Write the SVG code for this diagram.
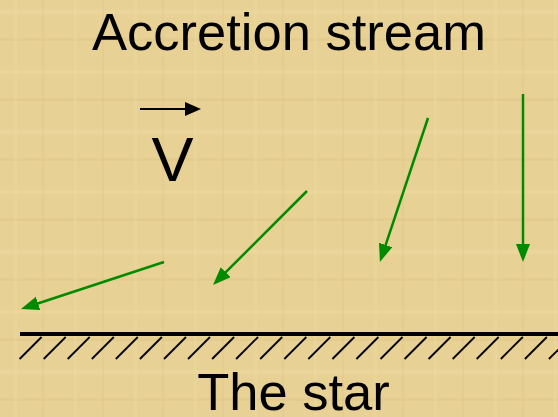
<svg xmlns="http://www.w3.org/2000/svg" width="558" height="417" viewBox="0 0 558 417">
  <style>
    .label { font-family: "Liberation Sans", Arial, sans-serif; fill: #000; text-anchor: middle; }
    .flow { stroke: #008A00; stroke-width: 2.5; fill: none; marker-end: url(#greenHead); }
    .hatch { stroke: #000; stroke-width: 1.8; }
  </style>
  <defs>
    <marker id="greenHead" markerUnits="userSpaceOnUse" markerWidth="19" markerHeight="15" refX="2" refY="7" orient="auto">
      <path d="M0,0 L18,7 L0,14 z" fill="#008A00"/>
    </marker>
    <marker id="blackHead" markerUnits="userSpaceOnUse" markerWidth="17" markerHeight="15" refX="2" refY="7" orient="auto">
      <path d="M0,0 L16,7 L0,14 z" fill="#000"/>
    </marker>
    <pattern id="parch" width="60" height="60" patternUnits="userSpaceOnUse">
      <rect width="60" height="60" fill="#E8D194"/>
      <rect x="0" y="10" width="60" height="4" fill="#EFDCA6" opacity="0.4"/>
      <rect x="0" y="38" width="60" height="3" fill="#DCC282" opacity="0.3"/>
      <rect x="14" y="0" width="3" height="60" fill="#EEDBA4" opacity="0.35"/>
      <rect x="42" y="0" width="2" height="60" fill="#DBC080" opacity="0.25"/>
    </pattern>
  </defs>
  <rect width="558" height="417" fill="url(#parch)"/>

  <g id="title">
    <text class="label" x="289" y="50" font-size="52.5">Accretion stream</text>
  </g>

  <g id="velocity">
    <line x1="140" y1="109" x2="187" y2="109" stroke="#000" stroke-width="2" marker-end="url(#blackHead)"/>
    <text class="label" x="172.5" y="181" font-size="63">V</text>
  </g>

  <g id="connectors">
    <line class="flow" x1="164" y1="262" x2="36.2" y2="304"/>
    <line class="flow" x1="307" y1="191" x2="224.3" y2="273.7"/>
    <line class="flow" x1="428" y1="118" x2="385" y2="246.8"/>
    <line class="flow" x1="523" y1="94" x2="523" y2="246"/>
  </g>

  <g id="star-surface">
    <line x1="20" y1="334" x2="558" y2="334" stroke="#000" stroke-width="3.8"/>
    <g class="hatch">
      <line x1="19.6" y1="359" x2="41.6" y2="337"/>
      <line x1="43.7" y1="359" x2="65.7" y2="337"/>
      <line x1="67.7" y1="359" x2="89.7" y2="337"/>
      <line x1="91.8" y1="359" x2="113.8" y2="337"/>
      <line x1="115.8" y1="359" x2="137.8" y2="337"/>
      <line x1="139.9" y1="359" x2="161.9" y2="337"/>
      <line x1="164.0" y1="359" x2="186.0" y2="337"/>
      <line x1="188.0" y1="359" x2="210.0" y2="337"/>
      <line x1="212.1" y1="359" x2="234.1" y2="337"/>
      <line x1="236.1" y1="359" x2="258.1" y2="337"/>
      <line x1="260.2" y1="359" x2="282.2" y2="337"/>
      <line x1="284.3" y1="359" x2="306.3" y2="337"/>
      <line x1="308.3" y1="359" x2="330.3" y2="337"/>
      <line x1="332.4" y1="359" x2="354.4" y2="337"/>
      <line x1="356.4" y1="359" x2="378.4" y2="337"/>
      <line x1="380.5" y1="359" x2="402.5" y2="337"/>
      <line x1="404.6" y1="359" x2="426.6" y2="337"/>
      <line x1="428.6" y1="359" x2="450.6" y2="337"/>
      <line x1="452.7" y1="359" x2="474.7" y2="337"/>
      <line x1="476.7" y1="359" x2="498.7" y2="337"/>
      <line x1="500.8" y1="359" x2="522.8" y2="337"/>
      <line x1="524.9" y1="359" x2="546.9" y2="337"/>
      <line x1="548.9" y1="359" x2="570.9" y2="337"/>
    </g>
  </g>

  <g id="star-label">
    <text class="label" x="293.5" y="410" font-size="52.5">The star</text>
  </g>
</svg>
